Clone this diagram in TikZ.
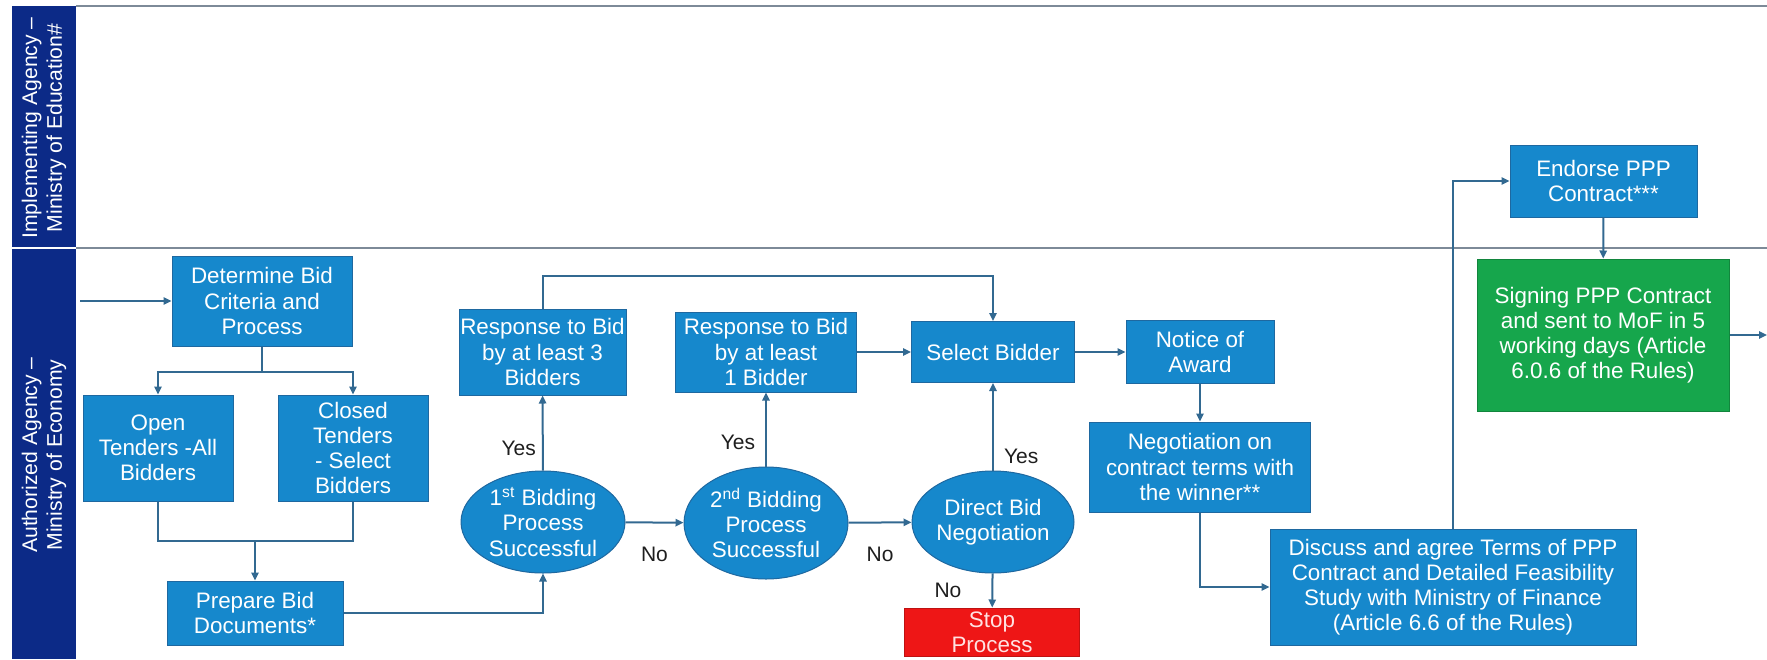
\documentclass[tikz,border=0pt]{standalone}
\usepackage{fontspec}
\setmainfont{Liberation Sans}
\usetikzlibrary{positioning,shapes.geometric,arrows.meta}
\definecolor{boxblue}{RGB}{22,136,204}
\definecolor{boxedge}{RGB}{30,104,160}
\definecolor{signgreen}{RGB}{22,166,76}
\definecolor{stopred}{RGB}{238,22,22}
\definecolor{flowline}{RGB}{50,105,145}
\definecolor{lanenavy}{RGB}{12,42,135}
\definecolor{laneline}{RGB}{125,138,152}
\definecolor{answerink}{RGB}{30,30,30}
\newcommand\stagefont{\fontsize{11.2}{12.6}\selectfont}
\newcommand\lanefont{\fontsize{10.6}{12.4}\selectfont}
\newcommand\answerfont{\fontsize{10.5}{12}\selectfont}

\begin{document}
\begin{tikzpicture}[x=0.5pt,y=-0.5pt]
    \tikzset{
        stage/.style={draw=boxedge,line width=0.5pt,fill=boxblue,text=white,align=center,inner sep=0pt,font=\stagefont},
        test/.style={stage,ellipse},
        flow/.style={draw=flowline,line width=1pt,-{Triangle[length=4pt,width=3.6pt]}},
        link/.style={draw=flowline,line width=1pt},
        answer/.style={font=\answerfont,text=answerink,inner sep=1pt},
        lanetitle/.style={font=\lanefont,text=white,align=center,rotate=90},}
    \useasboundingbox (0,0) rectangle (1767,659);
    % swim lanes
    \fill[lanenavy] (12,6) rectangle (76,247);
    \fill[lanenavy] (12,249) rectangle (76,659);
    \draw[laneline,line width=0.8pt] (76,6) -- (1767,6);
    \draw[laneline,line width=0.8pt] (76,248) -- (1767,248);
    \node[lanetitle] (implementing) at (44,128) {Implementing Agency –\\Ministry of Education\#};
    \node[lanetitle] (authorized) at (44,455) {Authorized Agency –\\Ministry of Economy};
    % tender stages
    \node[stage,minimum width=90pt,minimum height=45pt] (det) at (262,301) {Determine Bid\\Criteria and\\Process};
    \node[stage,minimum width=75pt,minimum height=53pt] (open) at (158,448) {Open\\Tenders -All\\Bidders};
    \node[stage,minimum width=75pt,minimum height=53pt] (closed) at (353,448) {Closed\\Tenders\\- Select\\Bidders};
    \node[stage,minimum width=88pt,minimum height=32pt] (prep) at (255,613) {Prepare Bid\\Documents*};
    \node[test,minimum width=82pt,minimum height=51pt] (first) at (543,522) {1\textsuperscript{st} Bidding\\Process\\Successful};
    \node[test,minimum width=82pt,minimum height=56pt] (second) at (766,523) {2\textsuperscript{nd} Bidding\\Process\\Successful};
    \node[test,minimum width=81pt,minimum height=51pt] (direct) at (993,522) {Direct Bid\\Negotiation};
    \node[stage,minimum width=83.5pt,minimum height=43pt] (resp3) at (542.5,352) {Response to Bid\\by at least 3\\Bidders};
    \node[stage,minimum width=90.5pt,minimum height=40pt] (resp1) at (766,352) {Response to Bid\\by at least\\1 Bidder};
    \node[stage,minimum width=81.5pt,minimum height=30.5pt] (select) at (993,352) {Select Bidder};
    \node[stage,fill=stopred,draw=stopred!80!black,text={rgb,255:red,255;green,226;blue,226},minimum width=87.5pt,minimum height=24pt] (stop) at (992,632) {Stop\\Process};
    \node[stage,minimum width=74pt,minimum height=31.5pt] (notice) at (1200,352) {Notice of\\Award};
    \node[stage,minimum width=110.5pt,minimum height=45pt] (neg) at (1200,467) {Negotiation on\\contract terms with\\the winner**};
    \node[stage,minimum width=183pt,minimum height=58pt] (disc) at (1453,587) {Discuss and agree Terms of PPP\\Contract and Detailed Feasibility\\Study with Ministry of Finance\\(Article 6.6 of the Rules)};
    \node[stage,minimum width=93.5pt,minimum height=36pt] (endorse) at (1603.5,181) {Endorse PPP\\Contract***};
    \node[stage,fill=signgreen,draw=signgreen!80!black,minimum width=126pt,minimum height=76pt] (sign) at (1603,335) {Signing PPP Contract\\and sent to MoF in 5\\working days (Article\\6.0.6 of the Rules)};
    \coordinate (entry) at (80,301);
    \coordinate (exit) at (1767,335);
    \coordinate (merge) at (255,541);
    % connectors
    \draw[flow] (entry) -- (det);
    \draw[link] (det.south) -- ++(0,25) coordinate (split);
    \draw[flow] (split) -| (open.north);
    \draw[flow] (split) -| (closed.north);
    \draw[link] (open.south) |- (merge) -| (closed.south);
    \draw[flow] (merge) -- (prep);
    \draw[flow] (prep.east) -| (first.south);
    \draw[flow] (first) -- node[answer,left=2pt,pos=0.3] (yes1) {Yes} (resp3);
    \draw[flow] (first) -- node[answer,below=11pt] (no1) {No} (second);
    \draw[flow] (second) -- node[answer,left=4pt,pos=0.32] (yes2) {Yes} (resp1);
    \draw[flow] (second) -- node[answer,below=11pt] (no2) {No} (direct);
    \draw[flow] (direct) -- node[answer,right=4pt,pos=0.16] (yes3) {Yes} (select);
    \draw[flow] (direct) -- node[answer,left=14pt] (no3) {No} (stop);
    \draw[flow] (resp3.north) -- ++(0,-33) -| (select.north);
    \draw[flow] (resp1) -- (select);
    \draw[flow] (select) -- (notice);
    \draw[flow] (notice) -- (neg);
    \draw[flow] (neg.south) |- (disc.west);
    \draw[flow] (disc.north) |- (endorse.west);
    \draw[flow] (endorse) -- (sign);
    \draw[flow] (sign) -- (exit);
\end{tikzpicture}
\end{document}
